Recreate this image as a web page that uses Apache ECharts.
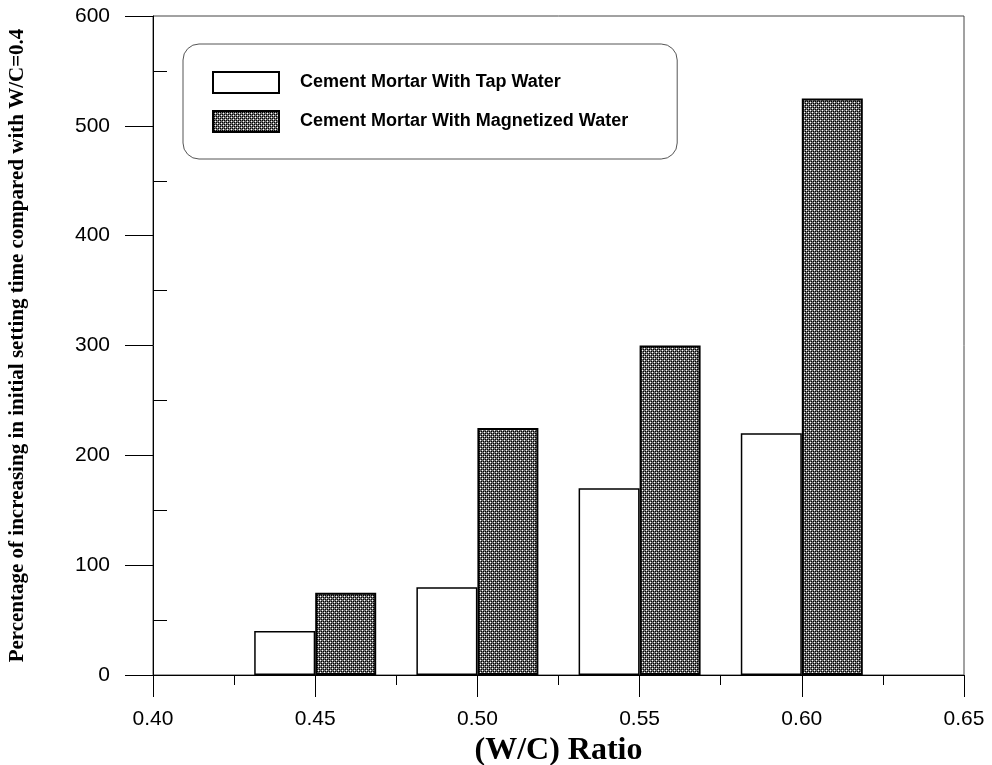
<!DOCTYPE html>
<html><head><meta charset="utf-8">
<script src="https://cdn.jsdelivr.net/npm/echarts@6/dist/echarts.min.js"></script>
<style>html,body{margin:0;padding:0;background:#fff}#c{width:992px;height:765px}</style>
</head><body><div id="c"></div>
<script>
const wcRatios = [0.45, 0.50, 0.55, 0.60];
const tapWater = [40, 80, 170, 220];
const magnetizedWater = [75, 225, 300, 525];
const seriesNames = ['Cement Mortar With Tap Water', 'Cement Mortar With Magnetized Water'];
const xTitle = '(W/C) Ratio';
const yTitle = 'Percentage of increasing in initial setting time compared with W/C=0.4';
const yMinorTicks = [50, 150, 250, 350, 450, 550];

function makePattern() {
  const c = document.createElement('canvas');
  c.width = 4; c.height = 4;
  const ctx = c.getContext('2d');
  const img = ctx.createImageData(4, 4);
  for (let y = 0; y < 4; y++) {
    for (let x = 0; x < 4; x++) {
      let v;
      if ((x === 0 && y === 0) || (x === 2 && y === 2)) v = 255;
      else if ((x % 2 === 1) && (y % 2 === 1)) v = 0;
      else v = 110;
      const i = (y * 4 + x) * 4;
      img.data[i] = v; img.data[i + 1] = v; img.data[i + 2] = v; img.data[i + 3] = 255;
    }
  }
  ctx.putImageData(img, 0, 0);
  return c;
}

const chart = echarts.init(document.getElementById('c'), null, {renderer: 'canvas'});
const sans = 'Liberation Sans, Arial, sans-serif';
const serif = 'Liberation Serif, Times New Roman, serif';

chart.setOption({
  animation: false,
  backgroundColor: '#fff',
  grid: {left: 153, width: 811, top: 16, height: 659, outerBoundsMode: 'none', containLabel: false,
    show: true, borderColor: '#444', borderWidth: 1, backgroundColor: 'transparent'},
  legend: {
    orient: 'vertical', left: 183, top: 44,
    padding: [27, 49, 26, 29],
    itemWidth: 66, itemHeight: 21, itemGap: 16,
    borderColor: '#555', borderWidth: 1, borderRadius: 16, backgroundColor: '#fff',
    icon: 'rect',
    textStyle: {fontFamily: sans, fontWeight: 'bold', fontSize: 18, color: '#000', padding: [0, 0, 0, 16]},
    data: seriesNames
  },
  xAxis: {
    type: 'value', min: 0.4, max: 0.65, interval: 0.05,
    name: xTitle, nameLocation: 'middle', nameGap: 56,
    nameTextStyle: {fontFamily: serif, fontWeight: 'bold', fontSize: 32, color: '#000'},
    axisLine: {show: true, lineStyle: {color: '#000', width: 1}},
    axisTick: {show: true, inside: false, length: 22, lineStyle: {color: '#000', width: 1}},
    minorTick: {show: true, splitNumber: 2, length: 10, lineStyle: {color: '#000', width: 1}},
    axisLabel: {margin: 34, fontFamily: sans, fontSize: 21, color: '#000', formatter: v => v.toFixed(2)},
    splitLine: {show: false}, minorSplitLine: {show: false}
  },
  yAxis: [{
    type: 'value', min: 0, max: 600, interval: 100, position: 'left',
    name: yTitle, nameLocation: 'middle', nameGap: 125,
    nameTextStyle: {fontFamily: serif, fontWeight: 'bold', fontSize: 21, color: '#000'},
    axisLine: {show: true, lineStyle: {color: '#000', width: 1}},
    axisTick: {show: true, inside: false, length: 28, lineStyle: {color: '#000', width: 1}},
    axisLabel: {margin: 43, fontFamily: sans, fontSize: 21, color: '#000'},
    splitLine: {show: false}
  }, {
    type: 'value', min: 0, max: 600, interval: 100, position: 'left', offset: 0,
    axisLine: {show: false},
    axisTick: {show: true, inside: true, length: 14, customValues: yMinorTicks, lineStyle: {color: '#000', width: 1}},
    axisLabel: {show: false},
    splitLine: {show: false}
  }],
  series: [{
    name: seriesNames[0], type: 'bar', yAxisIndex: 0,
    barWidth: 61, barGap: '0%',
    itemStyle: {color: '#fff', borderColor: '#000', borderWidth: 1.5},
    data: wcRatios.map((x, i) => [x, tapWater[i]])
  }, {
    name: seriesNames[1], type: 'bar', yAxisIndex: 0,
    barWidth: 61, barGap: '0%',
    itemStyle: {color: {image: makePattern(), repeat: 'repeat'}, borderColor: '#000', borderWidth: 2},
    data: wcRatios.map((x, i) => [x, magnetizedWater[i]])
  }]
});
</script>
</body></html>
